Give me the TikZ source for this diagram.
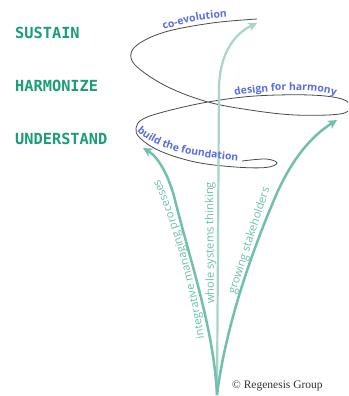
\documentclass[tikz,border=0pt]{standalone}
\usepackage{fontspec}
\usetikzlibrary{arrows.meta,decorations.text}
\newfontfamily\headfont{DejaVu Sans Mono}
\newfontfamily\labfont{Open Sans}
\newfontfamily\copyfont{Liberation Serif}
\definecolor{headGreen}{HTML}{1A9E7A}
\definecolor{blueLab}{HTML}{5A6EE0}
\definecolor{tealArrow}{HTML}{72BFAD}
\definecolor{tealLight}{HTML}{A6D5CA}
\definecolor{tealText}{HTML}{6CC1A8}
\definecolor{spiralGray}{HTML}{4A4A4A}
\newcommand\blueFs{\labfont\bfseries\fontsize{10.4}{12}\selectfont\color{blueLab}}
\newcommand\greenFs{\labfont\fontsize{11.2}{13}\selectfont\color{tealText}}
\tikzset{
  heading/.style={anchor=base west, inner sep=0pt, text=headGreen, font=\headfont\bfseries\fontsize{15.3}{18}\selectfont},
  arrowlabel/.style={anchor=base west, inner sep=0pt, font=\greenFs},
  spiralline/.style={draw=spiralGray, line width=0.8pt},
  growarrow/.style={draw=tealArrow, line width=2.5pt, -{Stealth[length=9pt,width=9pt,inset=2.5pt]}},
  growarrowlight/.style={draw=tealLight, line width=2.2pt, -{Stealth[length=9pt,width=9pt,inset=2.5pt]}},
}
\begin{document}
\begin{tikzpicture}[x=1pt,y=-1pt]
\useasboundingbox (0,0) rectangle (348,396);
\fill[white] (0,0) rectangle (348,396);

\node[heading] (sustain) at (15,38) {SUSTAIN};
\node[heading] (harmonize) at (15,91) {HARMONIZE};
\node[heading] (understand) at (15,144) {UNDERSTAND};

\begin{scope}
\clip (0,0) rectangle (348,396);
\draw[spiralline] plot[smooth, tension=0.6] coordinates {
 (242,161) (266,159) (277,163) (266,167.5) (235,167) (195,162) (160,151) (140,138)
 (136,128) (143,119) (167,111) (208,102) (255,96) (310,95) (342,99) (350,107)
 (340,114) (295,115) (250,110) (208,102) (170,88) (142,71) (131,58) (137,45)
 (165,32) (212,23) (257,19)};

\coordinate (root) at (217,395);
\coordinate (leftTip) at (143,148);
\coordinate (leftMid) at (175,200);
\coordinate (midTip) at (257,23);
\coordinate (rightTip) at (337,120);
\coordinate (rightMid) at (277,193);
\coordinate (midBend) at (219,90);

\draw[growarrowlight] (root) -- (midBend) .. controls (219,52) and (236,33) .. (midTip);
\draw[growarrow] (root) .. controls (214,330) and (190,260) .. (leftMid)
  .. controls (170,180) and (160,158) .. (leftTip);
\draw[growarrow] (root) .. controls (225,330) and (250,255) .. (rightMid)
  .. controls (292,160) and (310,137) .. (rightTip);
\end{scope}

\path[decorate, decoration={text along path, text align=left,
  text={|\blueFs|co-evolution}}] (164,30) .. controls (185,22) and (205,18) .. (231,17);
\path[decorate, decoration={text along path, text align=left,
  text={|\blueFs|design for harmony}}] (235,96) .. controls (265,90) and (312,87) .. (340,97);
\path[decorate, decoration={text along path, text align=left,
  text={|\blueFs|build the foundation}}] (137,131) .. controls (155,148) and (185,157) .. (242,161);

\path[decorate, decoration={text along path, text align=left,
  text={|\greenFs|integrative managing processes}}] (204,338) .. controls (197,288) and (180,225) .. (158,176);
\node[arrowlabel, rotate=90.4] (wholelabel) at (214,304) {whole systems thinking};
\node[arrowlabel, rotate=72] (growlabel) at (235,295) {growing stakeholders};

\node[anchor=base west, inner sep=0pt, text=black!80, font=\copyfont\fontsize{11.5}{13}\selectfont] (copyright) at (232,388) {© Regenesis Group};
\end{tikzpicture}
\end{document}
